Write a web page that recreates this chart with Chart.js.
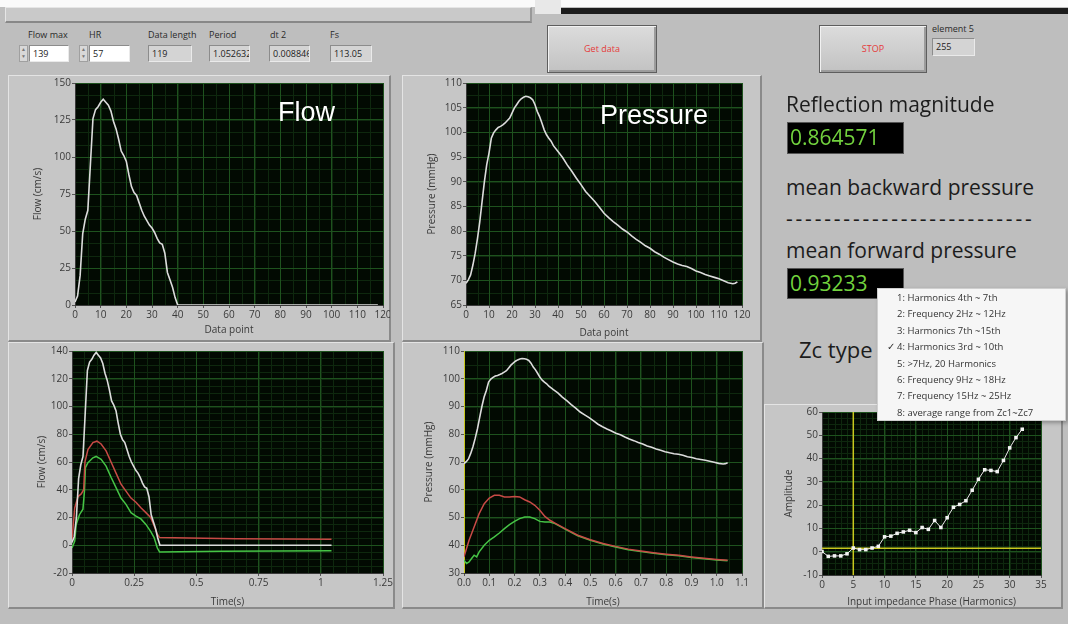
<!DOCTYPE html>
<html>
<head>
<meta charset="utf-8">
<script src="https://cdn.jsdelivr.net/npm/chart.js"></script>
<style>
  body { margin: 0; width: 1068px; height: 624px; background: #bebebe; position: relative; overflow: hidden;
         font-family: 'Open Sans', 'Noto Sans', sans-serif; color: #222; }
  canvas { position: absolute; }
  .panel { position: absolute; box-sizing: border-box; background: #c6c6c6; border: 1px solid #e4e4e4;
           border-right: 2px solid #8a8a8a; border-bottom: 2px solid #8a8a8a; }
  .lbl { position: absolute; font-size: 9px; line-height: 10px; color: #2a2a2a; white-space: nowrap; }
  .box { position: absolute; height: 17px; box-sizing: border-box; border: 1px solid #8c8c8c; border-right-color: #eaeaea;
         border-bottom-color: #eaeaea; font-size: 9px; line-height: 15px; padding-left: 3px; overflow: hidden; white-space: nowrap; }
  .ctl { background: #fff; }
  .ind { background: #d4d4d4; }
  .spin { position: absolute; width: 9px; height: 17px; box-sizing: border-box; background: #d8d8d8; border: 1px solid #a0a0a0;
          font-size: 5px; line-height: 7px; text-align: center; color: #777; }
  .btn { position: absolute; box-sizing: border-box; background: linear-gradient(#dcdcdc, #c2c2c2); border: 1px solid #5e5e5e;
         box-shadow: inset 1px 1px 0 #f2f2f2, inset -2px -2px 0 #9c9c9c; color: #e53a3a; font-size: 9px; text-align: center; }
  .big { position: absolute; font-size: 21px; line-height: 24px; color: #1c1c1c; white-space: nowrap; }
  .val { position: absolute; box-sizing: border-box; background: #000; border: 1px solid #555; color: #72d23e;
         font-size: 21px; line-height: 28px; padding-left: 2px; }
  .over { position: absolute; color: #fff; font-family: 'Liberation Sans', Arial, sans-serif; font-size: 27px; line-height: 27px; }
  #menu { position: absolute; left: 877px; top: 288px; width: 189px; height: 133px; box-sizing: border-box; background: #f6f6f6;
          border: 1px solid #cfcfcf; box-shadow: 2px 2px 4px rgba(0,0,0,0.3); padding-top: 1px; z-index: 5; }
  #menu div { position: relative; height: 16.4px; line-height: 16.4px; font-size: 9.5px; color: #333; padding-left: 19px; white-space: nowrap; }
  #menu span { position: absolute; left: 9px; }
</style>
</head>
<body>
<!-- top strip -->
<div style="position:absolute;left:0;top:0;width:1068px;height:7px;background:#fafafa"></div>
<div style="position:absolute;left:5px;top:7px;width:527px;height:16px;box-sizing:border-box;background:#c9c9c9;border:1px solid #e6e6e6;border-bottom:2px solid #888;border-right:2px solid #999"></div>
<div style="position:absolute;left:535px;top:0;width:26px;height:14px;background:#e8e8e8"></div>
<div style="position:absolute;left:561px;top:8px;width:507px;height:6px;background:#1c1c1c"></div>

<!-- front panel controls -->
<div class="lbl" style="left:28px;top:30px">Flow max</div>
<div class="spin" style="left:19px;top:45px">▲<br>▼</div>
<div class="box ctl" style="left:29px;top:45px;width:40px">139</div>
<div class="lbl" style="left:89px;top:30px">HR</div>
<div class="spin" style="left:79px;top:45px">▲<br>▼</div>
<div class="box ctl" style="left:89px;top:45px;width:41px">57</div>
<div class="lbl" style="left:148px;top:30px">Data length</div>
<div class="box ind" style="left:148px;top:45px;width:44px">119</div>
<div class="lbl" style="left:209px;top:30px">Period</div>
<div class="box ind" style="left:209px;top:45px;width:41px">1.052632</div>
<div class="lbl" style="left:270px;top:30px">dt 2</div>
<div class="box ind" style="left:269px;top:45px;width:41px">0.008846</div>
<div class="lbl" style="left:330px;top:30px">Fs</div>
<div class="box ind" style="left:330px;top:45px;width:42px">113.05</div>

<div class="btn" style="left:547px;top:25px;width:110px;height:48px;line-height:46px">Get data</div>
<div class="btn" style="left:819px;top:25px;width:108px;height:48px;line-height:46px">STOP</div>
<div class="lbl" style="left:932px;top:24px">element 5</div>
<div class="box ind" style="left:932px;top:38px;width:43px;height:18px">255</div>

<!-- graph panels -->
<div class="panel" style="left:8px;top:75px;width:383px;height:267px"></div>
<div class="panel" style="left:402px;top:75px;width:360px;height:267px"></div>
<div class="panel" style="left:8px;top:342px;width:387px;height:267px"></div>
<div class="panel" style="left:402px;top:342px;width:362px;height:267px"></div>
<div class="panel" style="left:764px;top:404px;width:299px;height:205px"></div>

<canvas id="flowTop" width="382" height="264" style="left:8px;top:76px"></canvas>
<canvas id="pressTop" width="357" height="264" style="left:403px;top:76px"></canvas>
<canvas id="flowTime" width="385" height="266" style="left:8px;top:342px"></canvas>
<canvas id="pressTime" width="358" height="266" style="left:403px;top:342px"></canvas>
<canvas id="zcPhase" width="295" height="204" style="left:765px;top:404px"></canvas>

<div class="over" style="left:278px;top:99px">Flow</div>
<div class="over" style="left:600px;top:102px">Pressure</div>

<!-- results -->
<div class="big" style="left:786px;top:92px">Reflection magnitude</div>
<div class="val" style="left:787px;top:122px;width:117px;height:32px">0.864571</div>
<div class="big" style="left:786px;top:175px">mean backward pressure</div>
<div class="big" style="left:786px;top:206px;letter-spacing:2.8px">--------------------------</div>
<div class="big" style="left:786px;top:238px">mean forward pressure</div>
<div class="val" style="left:787px;top:268px;width:117px;height:31px">0.93233</div>
<div class="big" style="left:799px;top:336px;font-size:22px;line-height:26px">Zc type</div>
<div id="menu"></div>

<script>
// sampling step of the time axis (dt 2)
const dt = 0.00884;

// top flow graph: data point index / flow (cm/s)
const flowIdx = [0, 1, 2, 3, 4, 5, 6, 7, 8, 9, 10, 11, 12, 13, 14, 15, 16, 17, 18, 19, 20,
                 21, 22, 23, 24, 25, 26, 27, 28, 29, 30, 31, 32, 33, 34, 35, 36, 37, 38, 39, 40, 118];
const flowVal = [2, 6, 20, 48, 58, 64, 95, 126, 132, 134, 137, 139, 137, 135, 131, 124, 119, 112, 104, 101, 97,
                 88, 80, 76, 74, 69, 64, 60, 57, 54, 52, 49, 45, 42, 41, 35, 22, 17, 12, 5, 0, 0];

// top pressure graph: data point index / pressure (mmHg)
const pressIdx = [0, 1, 2, 3, 4, 5, 6, 7, 8, 9, 10, 11, 12, 13, 14, 15, 16, 17, 18, 19, 20, 21, 22, 23, 24, 25,
                  26, 27, 28, 29, 30, 31, 32, 33, 34, 35, 36, 37, 38, 40, 42, 44, 46, 48, 50, 52, 54, 56, 58, 60,
                  62, 64, 66, 68, 70, 72, 74, 76, 78, 80, 82, 84, 86, 88, 90, 92, 94, 96, 98, 100, 102, 104, 106,
                  108, 110, 112, 114, 116, 117, 118];
const pressVal = [69.4, 70.1, 71.1, 73.1, 75.5, 78.5, 81.9, 86.0, 90.0, 93.4, 95.8, 98.8, 99.9, 100.5, 101.0, 101.2,
                  101.5, 101.9, 102.4, 102.9, 103.9, 104.9, 105.6, 106.3, 106.8, 107.1, 107.3, 107.2, 107.0, 106.6,
                  105.6, 104.2, 103.2, 101.9, 100.5, 99.5, 98.8, 98.2, 97.3, 96.1, 94.9, 93.4, 92.1, 90.7, 89.4,
                  88.0, 87.0, 86.0, 84.8, 83.6, 82.7, 81.9, 81.2, 80.4, 79.8, 79.0, 78.3, 77.7, 77.0, 76.5, 75.8,
                  75.3, 74.7, 74.2, 73.7, 73.3, 73.0, 72.8, 72.4, 71.9, 71.6, 71.2, 70.9, 70.6, 70.3, 69.9, 69.5,
                  69.3, 69.4, 69.7];

// separated flow waves (time s / cm/s)
const fwdFlowTime = [0, 0.011, 0.024, 0.037, 0.047, 0.052, 0.064, 0.084, 0.1, 0.117, 0.137, 0.157, 0.177,
                     0.197, 0.217, 0.237, 0.257, 0.277, 0.297, 0.316, 0.33, 0.343, 0.352, 0.47, 0.66, 1.043];
const fwdFlowVal = [4, 27, 35, 37, 40, 60, 69, 74, 75, 73, 68, 60, 52, 44, 39, 34, 31, 27, 23.5, 20, 14, 8, 5.5,
                    5.2, 4.6, 4.3];
const bwdFlowTime = [0, 0.011, 0.017, 0.03, 0.044, 0.05, 0.054, 0.064, 0.084, 0.097, 0.117, 0.137, 0.157,
                     0.177, 0.197, 0.217, 0.237, 0.257, 0.277, 0.297, 0.316, 0.33, 0.343, 0.352, 0.6, 1.043];
const bwdFlowVal = [-2, 3, 15, 22, 26, 39, 56, 59.5, 63, 64, 62, 57, 49, 41.5, 34, 29.5, 23.5, 21, 19, 15, 10,
                    5.5, -2, -4.8, -4.4, -4];

// separated pressure waves (time s / mmHg)
const fwdPressTime = [0, 0.02, 0.04, 0.06, 0.08, 0.1, 0.12, 0.14, 0.16, 0.18, 0.2, 0.22, 0.24, 0.26, 0.28, 0.3,
                      0.32, 0.34, 0.36, 0.4, 0.45, 0.5, 0.55, 0.6, 0.65, 0.7, 0.75, 0.8, 0.85, 0.9, 0.95, 1.0, 1.043];
const fwdPressVal = [35.8, 41.8, 46.6, 51.4, 55, 57, 58, 58, 57.4, 57.4, 57.6, 57.4, 56.4, 55.6, 54.4, 52.6,
                     50.4, 49, 48, 46, 43.6, 42, 40.6, 39.6, 38.6, 37.9, 37.3, 36.8, 36.4, 35.8, 35.3, 34.9, 34.6];
const bwdPressTime = [0, 0.01, 0.02, 0.03, 0.04, 0.05, 0.06, 0.08, 0.1, 0.12, 0.14, 0.16, 0.18, 0.2, 0.22, 0.24,
                      0.26, 0.28, 0.3, 0.32, 0.34, 0.36, 0.4, 0.45, 0.5, 0.55, 0.6, 0.65, 0.7, 0.75, 0.8, 0.85,
                      0.9, 0.95, 1.0, 1.043];
const bwdPressVal = [34.6, 33.4, 34, 35.2, 36.4, 35.8, 37.6, 40, 41.8, 43, 44.4, 46, 47.4, 48.6, 49.6, 50.2,
                     50.2, 49.6, 48.6, 48.4, 48.4, 47.8, 45.8, 43.4, 41.8, 40.4, 39.4, 38.4, 37.7, 37.1, 36.6,
                     36.2, 35.6, 35.1, 34.7, 34.4];

// input impedance phase per harmonic
const harmonics = [0, 1, 2, 3, 4, 5, 6, 7, 8, 9, 10, 11, 12, 13, 14, 15, 16, 17, 18, 19, 20, 21, 22, 23, 24,
                   25, 26, 27, 28, 29, 30, 31, 32];
const amplitude = [0.1, -2, -1.8, -1.8, -0.9, 1.6, 0.9, 0.9, 1.6, 2.3, 6.4, 6.7, 7.9, 8.5, 9.2, 8.2, 10.4, 9.6,
                   13.4, 10.4, 14.6, 19.1, 20.3, 21.9, 26.4, 31.1, 35.2, 34.9, 34.4, 39.2, 44.6, 49, 52.6];
const cursorHarmonic = 5;
const cursorAmplitude = 1.5;

const zcTypes = ['1: Harmonics 4th ~ 7th', '2: Frequency 2Hz ~ 12Hz', '3: Harmonics 7th ~15th',
                 '4: Harmonics 3rd ~ 10th', '5: >7Hz, 20 Harmonics', '6: Frequency 9Hz ~ 18Hz',
                 '7: Frequency 15Hz ~ 25Hz', '8: average range from Zc1~Zc7'];
const zcSelected = 3;

const menu = document.getElementById('menu');
zcTypes.forEach((t, i) => {
    const d = document.createElement('div');
    d.innerHTML = (i === zcSelected ? '<span>✓</span>' : '') + t.replace('>', '&gt;');
    menu.appendChild(d);
});

Chart.defaults.font.family = "'Open Sans', 'Noto Sans', sans-serif";

const tickColor = '#3a3a3a';
const majorGrid = 'rgb(30,82,30)';
const minorGrid = 'rgb(14,40,14)';
const plotBg = '#020a02';
const white = '#dcdcdc';
const red = '#c84a46';
const green = '#46c446';
const yellow = '#c8c81e';

// dark plot area + minor grid lines
const plotStyle = {
    id: 'plotStyle',
    beforeDraw(chart, args, opts) {
        const { ctx, chartArea: a, scales: { x, y } } = chart;
        ctx.save();
        ctx.fillStyle = plotBg;
        ctx.fillRect(a.left, a.top, a.right - a.left, a.bottom - a.top);
        ctx.strokeStyle = minorGrid;
        ctx.lineWidth = 1;
        ctx.beginPath();
        for (let k = 0; x.min + k * opts.xMinor <= x.max + 1e-9; k++) {
            const px = Math.round(x.getPixelForValue(x.min + k * opts.xMinor)) + 0.5;
            ctx.moveTo(px, a.top);
            ctx.lineTo(px, a.bottom);
        }
        for (let k = 0; y.min + k * opts.yMinor <= y.max + 1e-9; k++) {
            const py = Math.round(y.getPixelForValue(y.min + k * opts.yMinor)) + 0.5;
            ctx.moveTo(a.left, py);
            ctx.lineTo(a.right, py);
        }
        ctx.stroke();
        ctx.restore();
    }
};
Chart.register(plotStyle);

function series(xs, ys, color, width) {
    return {
        data: xs.map((x, i) => ({ x: x, y: ys[i] })),
        borderColor: color,
        backgroundColor: color,
        borderWidth: width,
        pointRadius: 0,
        tension: 0,
        fill: false
    };
}

function axis(a, horizontal) {
    const ticks = { stepSize: a.step, autoSkip: false, maxRotation: 0, color: tickColor, font: { size: 10 }, padding: 1,
                    callback: a.fmt || (v => String(v)) };
    return {
        type: 'linear',
        position: horizontal ? 'bottom' : 'left',
        min: a.min,
        max: a.max,
        ticks: ticks,
        grid: { color: majorGrid, tickColor: '#555', tickLength: 3 },
        border: { color: '#3a3a3a' },
        title: {
            display: true, text: a.title, color: tickColor, font: { size: 10 },
            padding: horizontal ? { top: 0, bottom: a.tpad } : { top: a.tpad, bottom: 0 }
        },
        afterFit(s) {
            if (horizontal) s.height = a.size; else s.width = a.size;
            s.paddingLeft = 0; s.paddingRight = 0; s.paddingTop = 0; s.paddingBottom = 0;
        }
    };
}

function makeChart(id, cfg) {
    return new Chart(document.getElementById(id), {
        type: 'line',
        data: { datasets: cfg.datasets },
        options: {
            responsive: false,
            animation: false,
            devicePixelRatio: 1,
            layout: { padding: { top: cfg.top, right: cfg.right, bottom: 0, left: 0 } },
            plugins: {
                legend: { display: false },
                tooltip: { enabled: false },
                plotStyle: { xMinor: cfg.x.minor, yMinor: cfg.y.minor }
            },
            scales: { x: axis(cfg.x, true), y: axis(cfg.y, false) }
        }
    });
}

const toTime = idx => idx.map(i => i * dt);

makeChart('flowTop', {
    top: 7, right: 7,
    x: { min: 0, max: 120, step: 10, minor: 5, title: 'Data point', size: 35, tpad: 4 },
    y: { min: 0, max: 150, step: 25, minor: 25 / 3, title: 'Flow (cm/s)', size: 67, tpad: 24 },
    datasets: [series(flowIdx, flowVal, white, 1.6)]
});

makeChart('pressTop', {
    top: 7, right: 18,
    x: { min: 0, max: 120, step: 10, minor: 5, title: 'Data point', size: 35, tpad: 1 },
    y: { min: 65, max: 110, step: 5, minor: 2.5, title: 'Pressure (mmHg)', size: 63, tpad: 23 },
    datasets: [series(pressIdx, pressVal, white, 1.6)]
});

makeChart('flowTime', {
    top: 9, right: 10,
    x: { min: 0, max: 1.25, step: 0.25, minor: 0.05, title: 'Time(s)', size: 35, tpad: 0 },
    y: { min: -20, max: 140, step: 20, minor: 5, title: 'Flow (cm/s)', size: 64, tpad: 28 },
    datasets: [
        series(toTime(flowIdx), flowVal, white, 1.6),
        series(fwdFlowTime, fwdFlowVal, red, 1.5),
        series(bwdFlowTime, bwdFlowVal, green, 1.5)
    ]
});

makeChart('pressTime', {
    top: 9, right: 19,
    x: { min: 0, max: 1.1, step: 0.1, minor: 0.05, title: 'Time(s)', size: 35, tpad: 0, fmt: v => v.toFixed(1) },
    y: { min: 30, max: 110, step: 10, minor: 5, title: 'Pressure (mmHg)', size: 61, tpad: 20 },
    datasets: [
        series(toTime(pressIdx), pressVal, white, 1.6),
        series(fwdPressTime, fwdPressVal, red, 1.5),
        series(bwdPressTime, bwdPressVal, green, 1.5),
        series([0, 0], [30, 110], yellow, 2)
    ]
});

const phase = series(harmonics, amplitude, '#e8e8e8', 1);
phase.pointStyle = 'rect';
phase.pointRadius = 2.5;
phase.pointBackgroundColor = '#f4f4f4';
phase.pointBorderWidth = 0;

makeChart('zcPhase', {
    top: 8, right: 19,
    x: { min: 0, max: 35, step: 5, minor: 1, title: 'Input impedance Phase (Harmonics)', size: 33, tpad: 0 },
    y: { min: -10, max: 60, step: 10, minor: 2.5, title: 'Amplitude', size: 57, tpad: 18 },
    datasets: [
        phase,
        series([cursorHarmonic, cursorHarmonic], [-10, 60], yellow, 1.5),
        series([0, 35], [cursorAmplitude, cursorAmplitude], yellow, 1.5)
    ]
});
</script>
</body>
</html>
